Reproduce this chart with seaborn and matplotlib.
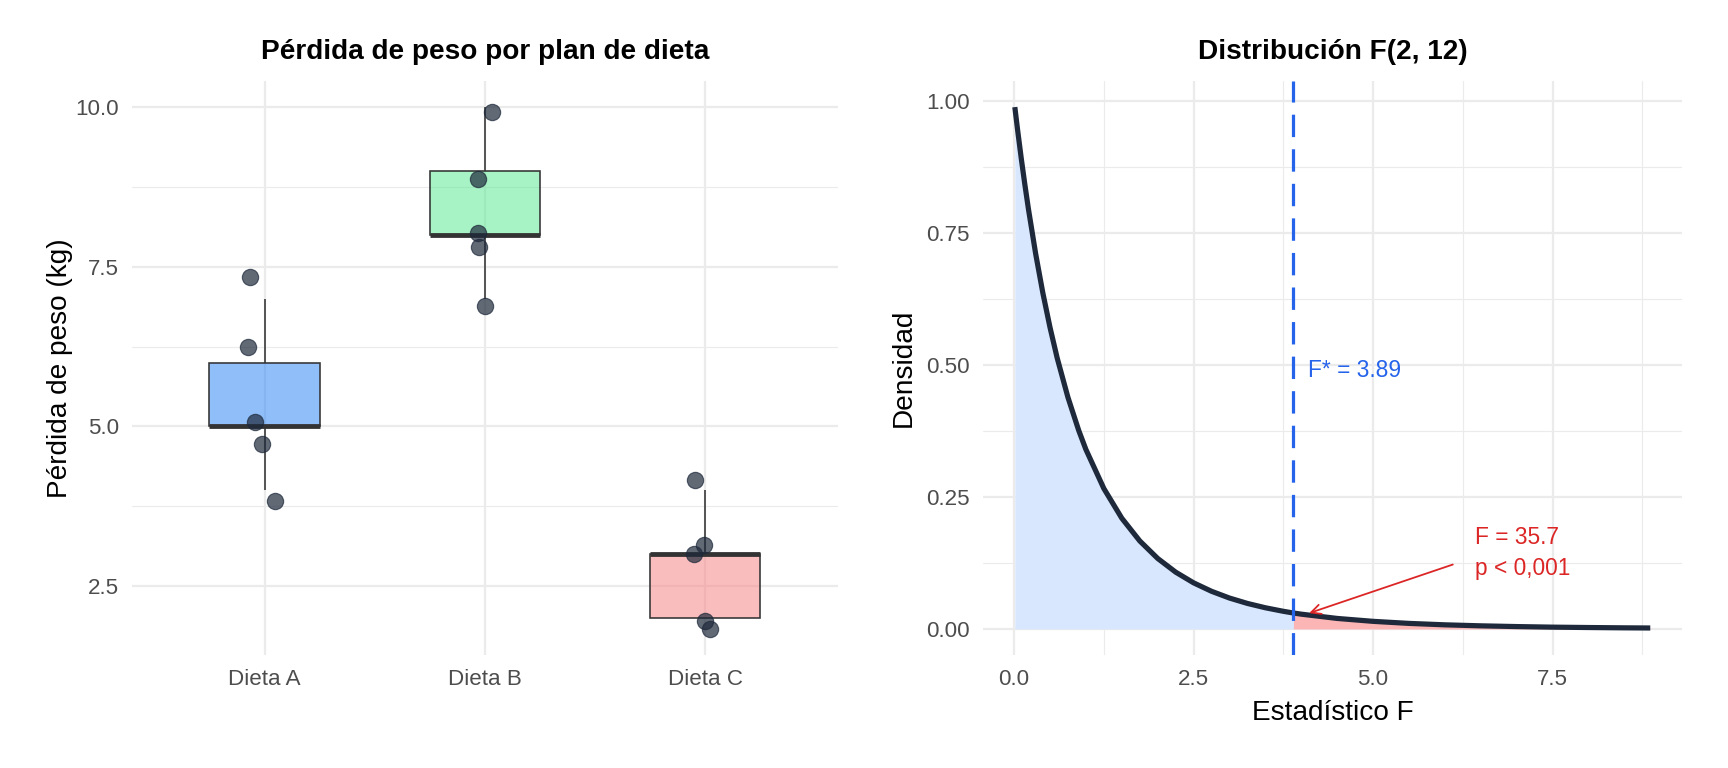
import matplotlib
matplotlib.use('Agg')
import matplotlib.pyplot as plt
import matplotlib.colors as mcolors
from matplotlib.ticker import MultipleLocator, FormatStrFormatter
import numpy as np
import pandas as pd
import seaborn as sns

sns.set_style('white')
plt.rcParams['font.family'] = ['Liberation Sans', 'DejaVu Sans']
plt.rcParams['text.color'] = 'black'
plt.rcParams['axes.labelcolor'] = 'black'

# datos del experimento (5 personas por dieta)
dietas = ['Dieta A', 'Dieta B', 'Dieta C']
perdida_a = [4, 5, 5, 6, 7]
perdida_b = [7, 8, 8, 9, 10]
perdida_c = [2, 2, 3, 3, 4]
colores = ['#217FF5', '#51E98D', '#F77D7D']

# puntos con jitter tal como aparecen en la figura
puntos_dieta = ['Dieta A'] * 5 + ['Dieta B'] * 5 + ['Dieta C'] * 5
puntos_y = [7.34, 6.24, 5.07, 4.72, 3.83,
            9.93, 8.88, 8.03, 7.81, 6.88,
            4.16, 3.14, 3.00, 1.95, 1.83]
puntos_dx = [-0.065, -0.075, -0.045, -0.01, 0.045,
             0.03, -0.03, -0.03, -0.025, 0.0,
             -0.045, -0.005, -0.05, 0.0, 0.02]

# densidad F(2, 12)
f_x = [0.01, 0.05, 0.1, 0.15, 0.2, 0.3, 0.4, 0.5, 0.6, 0.75, 0.9, 1.0, 1.25, 1.5,
       1.75, 2.0, 2.25, 2.5, 2.75, 3.0, 3.25, 3.5, 3.75, 3.89, 4.0, 4.5, 5.0,
       5.5, 6.0, 6.5, 7.0, 7.5, 8.0, 8.5, 8.86]
f_dens = [0.9884, 0.9436, 0.8907, 0.8413, 0.7949, 0.7107, 0.6365, 0.5711, 0.5131,
          0.4385, 0.3759, 0.3399, 0.2659, 0.2097, 0.1667, 0.1335, 0.1076, 0.0873,
          0.0713, 0.0585, 0.0483, 0.0401, 0.0334, 0.0302, 0.0280, 0.0199, 0.0144,
          0.0105, 0.0078, 0.0059, 0.0045, 0.0034, 0.0027, 0.0021, 0.0018]
f_crit = 3.89
f_obs = 35.7

df = pd.DataFrame({
    'dieta': ['Dieta A'] * 5 + ['Dieta B'] * 5 + ['Dieta C'] * 5,
    'perdida': perdida_a + perdida_b + perdida_c,
})
pts = pd.DataFrame({'dieta': puntos_dieta, 'y': puntos_y, 'dx': puntos_dx})
pts['x'] = pts['dieta'].map({d: i for i, d in enumerate(dietas)}) + pts['dx']

GRID = '#EBEBEB'
TICK = '#4D4D4D'
ROJO = '#DC2626'
AZUL = '#2563EB'
OSCURO = '#1E293B'

fig = plt.figure(figsize=(12, 768 / 144), dpi=144)
ax1 = fig.add_axes([0.0766, 0.1471, 0.4081, 0.7474])
ax2 = fig.add_axes([0.5689, 0.1471, 0.4045, 0.7474])

# --- panel izquierdo: boxplot + puntos
sns.boxplot(data=df, x='dieta', y='perdida', hue='dieta', order=dietas,
            palette=colores, saturation=1, width=0.5, showfliers=False,
            linecolor='#333333', linewidth=0.8, legend=False, ax=ax1,
            medianprops={'linewidth': 2.4}, capprops={'linewidth': 0})
for p in ax1.patches:
    fc = p.get_facecolor()
    p.set_facecolor(mcolors.to_rgba(fc[:3], 0.5))
sns.scatterplot(data=pts, x='x', y='y', color=OSCURO, alpha=0.7, s=66,
                edgecolor=OSCURO, linewidth=0.6, ax=ax1, zorder=5)

ax1.set_xlim(-0.6, 2.6)
ax1.set_ylim(1.42, 10.41)
ax1.yaxis.set_major_locator(MultipleLocator(2.5))
ax1.yaxis.set_minor_locator(MultipleLocator(1.25))
ax1.yaxis.set_major_formatter(FormatStrFormatter('%.1f'))
ax1.set_xticks(range(3))
ax1.set_xticklabels(dietas)
ax1.set_xlabel('')
ax1.set_ylabel('Pérdida de peso (kg)', fontsize=14, va='center')
ax1.yaxis.set_label_coords(-0.1026, 0.5)
ax1.text(0.5, 1.0505, 'Pérdida de peso por plan de dieta', transform=ax1.transAxes,
         ha='center', va='center', fontsize=14, fontweight='bold')

# --- panel derecho: distribución F
x = np.array(f_x)
y = np.array(f_dens)
izq = x <= f_crit
der = x >= f_crit
ax2.fill_between(x[izq], 0, y[izq], color='#D8E7FD', linewidth=0, zorder=1)
ax2.fill_between(x[der], 0, y[der], color='#FBB5B5', linewidth=0, zorder=1)
sns.lineplot(x=x, y=y, color=OSCURO, linewidth=2.6, ax=ax2, zorder=3,
             solid_capstyle='butt')
ax2.axvline(f_crit, color=AZUL, linewidth=1.6, dashes=(7, 3.8), zorder=4)
ax2.text(4.09, 0.49, f'F* = {f_crit:.2f}', color=AZUL, fontsize=11.4,
         ha='left', va='center')
ax2.annotate('', xy=(4.11, 0.030), xytext=(6.11, 0.122),
             arrowprops=dict(arrowstyle='->', color=ROJO, lw=0.9,
                             mutation_scale=12, shrinkA=0, shrinkB=0), zorder=5)
ax2.text(6.42, 0.144, f'F = {f_obs:.1f}\np < 0,001', color=ROJO, fontsize=11.4,
         ha='left', va='center', linespacing=1.45)

ax2.set_xlim(-0.4325, 9.3025)
ax2.set_ylim(-0.0494, 1.0378)
ax2.xaxis.set_major_locator(MultipleLocator(2.5))
ax2.xaxis.set_minor_locator(MultipleLocator(1.25))
ax2.xaxis.set_major_formatter(FormatStrFormatter('%.1f'))
ax2.yaxis.set_major_locator(MultipleLocator(0.25))
ax2.yaxis.set_minor_locator(MultipleLocator(0.125))
ax2.yaxis.set_major_formatter(FormatStrFormatter('%.2f'))
ax2.set_xlabel('Estadístico F', fontsize=14, va='center')
ax2.xaxis.set_label_coords(0.5, -0.101)
ax2.set_ylabel('Densidad', fontsize=14, va='center')
ax2.yaxis.set_label_coords(-0.1136, 0.5)
ax2.text(0.5, 1.0505, 'Distribución F(2, 12)', transform=ax2.transAxes,
         ha='center', va='center', fontsize=14, fontweight='bold')

for ax in (ax1, ax2):
    ax.set_axisbelow(True)
    for s in ax.spines.values():
        s.set_visible(False)
    ax.grid(which='major', color=GRID, linewidth=1.1)
    ax.grid(which='minor', color=GRID, linewidth=0.55)
    ax.tick_params(which='both', length=0, labelsize=11.2, labelcolor=TICK)
    ax.tick_params(axis='x', pad=7)
    ax.tick_params(axis='y', pad=6.5)
ax1.grid(which='minor', axis='x', visible=False)

fig.savefig('out.png', dpi=144, facecolor='white')
